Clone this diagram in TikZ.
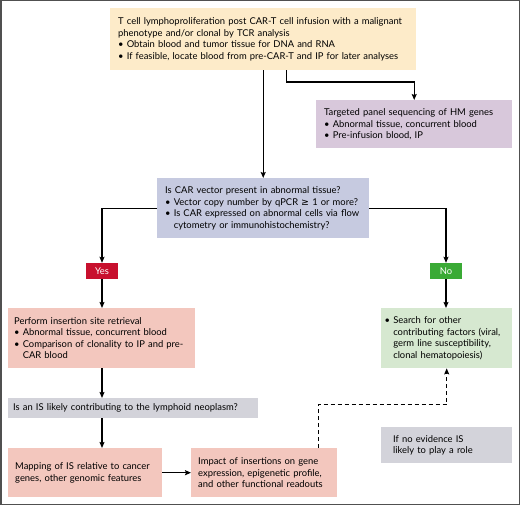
\documentclass[tikz,border=0pt]{standalone}
\usepackage{fontspec}
\setmainfont{Lato}
\newfontfamily\symfont{DejaVu Sans}
\usetikzlibrary{positioning,calc}
\usetikzlibrary{arrows.meta}
\definecolor{trig}{RGB}{253,235,201}
\definecolor{panelc}{RGB}{216,200,219}
\definecolor{vecc}{RGB}{198,202,224}
\definecolor{isc}{RGB}{243,199,190}
\definecolor{greyc}{RGB}{211,211,218}
\definecolor{otherc}{RGB}{214,232,208}
\definecolor{yesc}{RGB}{200,16,46}
\definecolor{noc}{RGB}{58,170,53}
\definecolor{framec}{RGB}{80,80,80}
\newcommand{\bul}{\textbullet\ }
\newcommand{\ind}{\phantom{\textbullet\ }}

\begin{document}
\begin{tikzpicture}[
  x = 1pt,
  y = -1pt,
  stage/.style = {
    rectangle,
    anchor = north west,
    inner xsep = 8pt,
    inner ysep = 0pt,
    align = left,
    font = \fontsize{9.4}{11.5}\selectfont,
  },
  flag/.style = {
    rectangle,
    inner sep = 0pt,
    minimum width = 32pt,
    minimum height = 16pt,
    text = white,
    font = \fontsize{9.4}{10}\selectfont,
  },
  link/.style = {
    draw,
    line width = 1.1pt,
  },
  >={Stealth[length=6pt,width=5pt,inset=1pt]},
]

  \useasboundingbox (0,0) rectangle (520,505);
  \draw[framec,line width=1.5pt] (0.75,0.75) rectangle (519.25,504.25);

  % top row
  \node[stage,fill=trig,text width=290pt,minimum height=62pt] (trigger) at (110,8)
    {T cell lymphoproliferation post CAR-T cell infusion with a malignant\\
     phenotype and/or clonal by TCR analysis\\
     \bul Obtain blood and tumor tissue for DNA and RNA\\
     \bul If feasible, locate blood from pre-CAR-T and IP for later analyses};
  \node[stage,fill=panelc,text width=180pt,minimum height=48pt] (panel) at (316,100)
    {Targeted panel sequencing of HM genes\\
     \bul Abnormal tissue, concurrent blood\\
     \bul Pre-infusion blood, IP};

  % vector question
  \node[stage,fill=vecc,text width=196pt,minimum height=60pt] (vector) at (157,178)
    {Is CAR vector present in abnormal tissue?\\
     \bul Vector copy number by qPCR {\symfont ≥} 1 or more?\\
     \bul Is CAR expressed on abnormal cells via flow\\
     \ind cytometry or immunohistochemistry?};

  \node[flag,fill=yesc] (yes) at (102,271) {Yes};
  \node[flag,fill=noc] (no) at (446,271) {No};

  % yes branch
  \node[stage,fill=isc,text width=175pt,minimum height=60pt,inner xsep=6pt] (retrieval) at (8,308)
    {Perform insertion site retrieval\\
     \bul Abnormal tissue, concurrent blood\\
     \bul Comparison of clonality to IP and pre-\\
     \ind CAR blood};
  \node[stage,fill=greyc,text width=240pt,minimum height=20pt,inner xsep=5pt] (contrib) at (8,398)
    {Is an IS likely contributing to the lymphoid neoplasm?};
  \node[stage,fill=isc,text width=140pt,minimum height=49pt,inner xsep=7pt] (mapping) at (8,448)
    {Mapping of IS relative to cancer\\
     genes, other genomic features};
  \node[stage,fill=isc,text width=132pt,minimum height=49pt,inner xsep=7pt] (impact) at (191,448)
    {Impact of insertions on gene\\
     expression, epigenetic profile,\\
     and other functional readouts};

  % no branch
  \node[stage,fill=otherc,text width=124pt,minimum height=60pt,inner xsep=3.5pt] (search) at (381,308)
    {\bul Search for other\\
     \ind contributing factors (viral,\\
     \ind germ line susceptibility,\\
     \ind clonal hematopoiesis)};
  \node[stage,fill=greyc,text width=107pt,minimum height=36pt,inner xsep=12pt] (noevid) at (381,427)
    {If no evidence IS\\
     likely to play a role};

  \path[link,->] (trigger.south) -- (vector.north);
  \path[link,->] ([xshift=23pt]trigger.south) |- ([yshift=18pt]panel.north) -- (panel.north);
  \path[link,->] (vector.west) -| (yes.north);
  \path[link,->] (vector.east) -| (no.north);
  \path[link,->] (yes.south) -- (yes.south |- retrieval.north);
  \path[link,->] (no.south) -- (no.south |- search.north);
  \path[link,->] (yes.south |- retrieval.south) -- (yes.south |- contrib.north);
  \path[link,->] (yes.south |- contrib.south) -- (yes.south |- mapping.north);
  \path[link,->] (mapping.east) -- (impact.west);
  \path[link,->,dash pattern=on 4pt off 3pt] ([xshift=54pt]impact.north) |- ([yshift=-36pt]search.south) -- (search.south);

\end{tikzpicture}
\end{document}
